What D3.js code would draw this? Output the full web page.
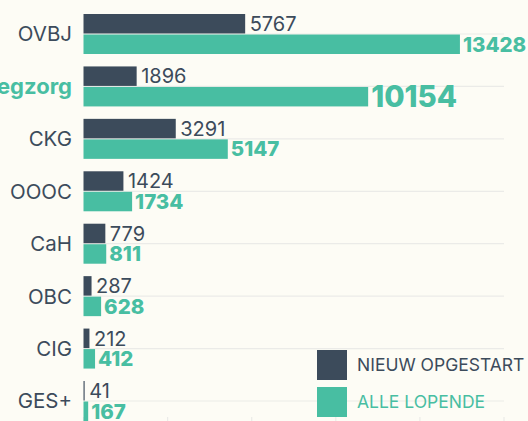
<!DOCTYPE html>
<html>
<head>
<meta charset="utf-8">
<script src="https://cdn.jsdelivr.net/npm/d3@7"></script>
<style>
  html, body { margin: 0; padding: 0; background: #fdfcf5; overflow: hidden; }
  svg { display: block; font-family: Inter, Roboto, sans-serif; }
</style>
</head>
<body>
<div id="wrapper"></div>
<script>
// data
const categories = ["OVBJ", "Pleegzorg", "CKG", "OOOC", "CaH", "OBC", "CIG", "GES+"]
const nieuwOpgestart = [5767, 1896, 3291, 1424, 779, 287, 212, 41]
const alleLopende = [13428, 10154, 5147, 1734, 811, 628, 412, 167]
const xTicks = [0, 3000, 6000, 9000, 12000, 15000]
const seriesKeys = ["nieuw", "alle"]
const seriesLabels = ["NIEUW OPGESTART", "ALLE LOPENDE"]
const highlighted = "Pleegzorg"

const dark = "#3c4b5b"
const teal = "#48bea2"

const dims = {
    width: 528,
    height: 421,
    margin: { top: 14, right: 24, bottom: 0, left: 83.5 }
}

const rows = categories.map((c, i) => ({
    cat: c,
    nieuw: nieuwOpgestart[i],
    alle: alleLopende[i]
}))

const svg = d3.select("#wrapper")
    .append("svg")
    .attr("width", dims.width)
    .attr("height", dims.height)

// scales
const xScale = d3.scaleLinear()
    .domain([0, 15000])
    .range([dims.margin.left, dims.width - dims.margin.right])

const yScale = d3.scaleBand()
    .domain(categories)
    .range([dims.margin.top, dims.height])
    .paddingInner(0.237)

const subScale = d3.scaleBand()
    .domain(seriesKeys)
    .range([0, yScale.bandwidth()])
    .paddingInner(0.05)

// grid
svg.append("g")
    .selectAll("line")
    .data(categories)
    .join("line")
    .attr("x1", xScale(0))
    .attr("x2", xScale(15000))
    .attr("y1", d => yScale(d) + yScale.bandwidth() / 2)
    .attr("y2", d => yScale(d) + yScale.bandwidth() / 2)
    .attr("stroke", "#ebebe8")
    .attr("stroke-width", 1.2)

svg.append("g")
    .selectAll("line")
    .data(xTicks)
    .join("line")
    .attr("x1", d => xScale(d))
    .attr("x2", d => xScale(d))
    .attr("y1", 417)
    .attr("y2", 440)
    .attr("stroke", "#ebebe8")
    .attr("stroke-width", 1.2)

// bars
const groups = svg.append("g")
    .selectAll("g")
    .data(rows)
    .join("g")
    .attr("transform", d => `translate(0, ${yScale(d.cat)})`)

groups.selectAll("rect")
    .data(d => seriesKeys.map(k => ({ key: k, value: d[k], cat: d.cat })))
    .join("rect")
    .attr("x", xScale(0))
    .attr("y", d => subScale(d.key))
    .attr("width", d => xScale(d.value) - xScale(0))
    .attr("height", subScale.bandwidth())
    .attr("fill", d => d.key === "nieuw" ? dark : teal)

groups.selectAll("text.value")
    .data(d => seriesKeys.map(k => ({ key: k, value: d[k], cat: d.cat })))
    .join("text")
    .attr("class", "value")
    .attr("x", d => xScale(d.value) + (d.key === "nieuw" ? 4.5 : 3))
    .attr("y", d => subScale(d.key) + subScale.bandwidth() / 2)
    .attr("dy", "0.36em")
    .attr("fill", d => d.key === "nieuw" ? dark : teal)
    .style("font-size", d => d.key === "alle" && d.cat === highlighted ? "29.5px" : (d.key === "alle" ? "20.5px" : "20px"))
    .style("font-weight", d => d.key === "alle" ? 800 : 400)
    .text(d => d.value)

// category labels
svg.append("g")
    .selectAll("text")
    .data(categories)
    .join("text")
    .attr("x", 72)
    .attr("y", d => yScale(d) + yScale.bandwidth() / 2)
    .attr("dy", "0.36em")
    .attr("text-anchor", "end")
    .attr("fill", d => d === highlighted ? teal : dark)
    .style("font-size", d => d === highlighted ? "22px" : "20.5px")
    .style("font-weight", d => d === highlighted ? 700 : 400)
    .text(d => d)

// legend
const legend = svg.append("g")
    .attr("transform", "translate(317, 350)")

const legendItems = legend.selectAll("g")
    .data(seriesLabels)
    .join("g")
    .attr("transform", (d, i) => `translate(0, ${i * 37})`)

legendItems.append("rect")
    .attr("width", 30)
    .attr("height", 30)
    .attr("fill", (d, i) => i === 0 ? dark : teal)

legendItems.append("text")
    .attr("x", 40)
    .attr("y", 15)
    .attr("dy", "0.36em")
    .attr("fill", (d, i) => i === 0 ? dark : teal)
    .style("font-size", "17.5px")
    .text(d => d)
</script>
</body>
</html>
